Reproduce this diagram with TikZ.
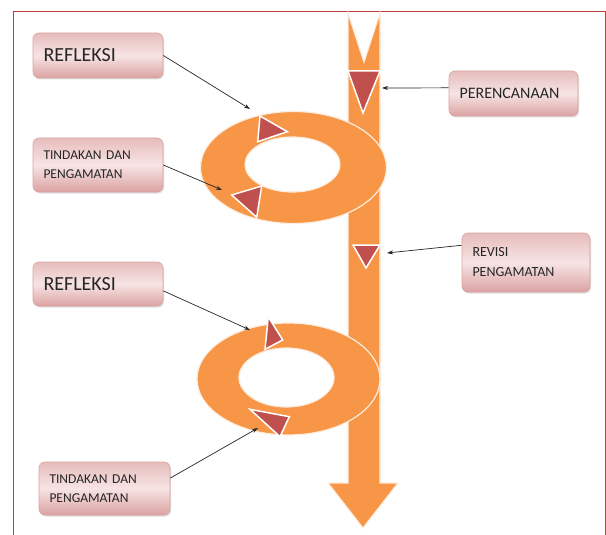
\documentclass[tikz,border=0pt]{standalone}
\usepackage{fontspec}
\setmainfont{Carlito}
\usetikzlibrary{arrows.meta,shadows}
\definecolor{ringor}{HTML}{F79646}
\definecolor{markred}{HTML}{C0504D}
\definecolor{boxlight}{HTML}{F7E4E4}
\definecolor{boxdark}{HTML}{DCA2A2}
\definecolor{boxedge}{HTML}{D9A3A3}
\definecolor{framered}{HTML}{C0393B}

\begin{document}
\begin{tikzpicture}[x=1pt,y=-1pt]
\tikzstyle{every node}+=[inner sep=0pt]
\tikzstyle{stepbox}=[draw=boxedge, line width=0.6pt, rounded corners=6pt, top color=boxdark!60!boxlight, bottom color=boxdark, middle color=boxlight, drop shadow={shadow xshift=1pt,shadow yshift=-1.5pt,opacity=0.25}, align=left, inner xsep=10.5pt, text=black!85]
\tikzstyle{flow}=[fill=ringor, draw=ringor!18!white, line width=1.2pt]
\tikzstyle{turnmark}=[fill=markred, draw=white, line width=1.5pt, line join=miter]
\tikzstyle{pointer}=[draw=black!85, line width=0.7pt, -{Stealth[length=6pt,width=4pt]}]
\path[fill=white, use as bounding box] (0,0) rectangle (606,535);
\draw[framered, line width=1pt] (13,535) -- (13,12) -- (605,12) -- (605,535);
\filldraw[flow] (348,13) -- (364,62) -- (380,13) -- (380,483) -- (398,483) -- (363,528) -- (328,483) -- (348,483) -- cycle;
\filldraw[flow, even odd rule] (293.5,167.5) ellipse [x radius=93, y radius=56] (292.5,164.5) ellipse [x radius=47.5, y radius=27.5];
\filldraw[flow, even odd rule] (288.5,379) ellipse [x radius=91.5, y radius=56] (286.5,377.5) ellipse [x radius=47.5, y radius=29.5];
\filldraw[turnmark] (348,71) -- (380,71) -- (363,113) -- cycle;
\filldraw[turnmark] (353,245) -- (380,245) -- (366,268) -- cycle;
\filldraw[turnmark] (260,116) -- (257.7,141.7) -- (287.3,131.7) -- cycle;
\filldraw[turnmark] (231.7,195) -- (261.7,186) -- (256.7,217.3) -- cycle;
\filldraw[turnmark] (268.3,316.7) -- (282.7,340) -- (265,349.3) -- cycle;
\filldraw[turnmark] (250,409.3) -- (289.3,416.7) -- (280,436.7) -- cycle;
\node[stepbox, text width=109pt, minimum height=45pt, font=\fontsize{20}{24}\selectfont] (refl1) at (98,55.5) {REFLEKSI};
\node[stepbox, text width=109pt, minimum height=54pt, font=\fontsize{13.5}{19}\selectfont] (act1) at (98,165) {TINDAKAN DAN\\PENGAMATAN};
\node[stepbox, text width=108pt, minimum height=45pt, font=\fontsize{16}{19}\selectfont] (plan) at (513.5,93.5) {PERENCANAAN};
\node[stepbox, text width=107pt, minimum height=59pt, font=\fontsize{14}{20}\selectfont] (rev) at (526,262.5) {REVISI\\PENGAMATAN};
\node[stepbox, text width=109pt, minimum height=44pt, font=\fontsize{20}{24}\selectfont] (refl2) at (98,284) {REFLEKSI};
\node[stepbox, text width=110pt, minimum height=53pt, font=\fontsize{13.5}{19}\selectfont] (act2) at (104.5,488.5) {TINDAKAN DAN\\PENGAMATAN};
\coordinate (r1a) at (250,109);
\coordinate (r1b) at (222,190);
\coordinate (sa) at (382,88);
\coordinate (sb) at (387,253);
\coordinate (r2a) at (250,330);
\coordinate (r2b) at (258,428);
\draw[pointer] (refl1.east) -- (r1a);
\draw[pointer] (act1.east) -- (r1b);
\draw[pointer] (plan.175) -- (sa);
\draw[pointer] (rev.165) -- (sb);
\draw[pointer] (refl2.-6) -- (r2a);
\draw[pointer] (act2.9) -- (r2b);
\end{tikzpicture}
\end{document}
